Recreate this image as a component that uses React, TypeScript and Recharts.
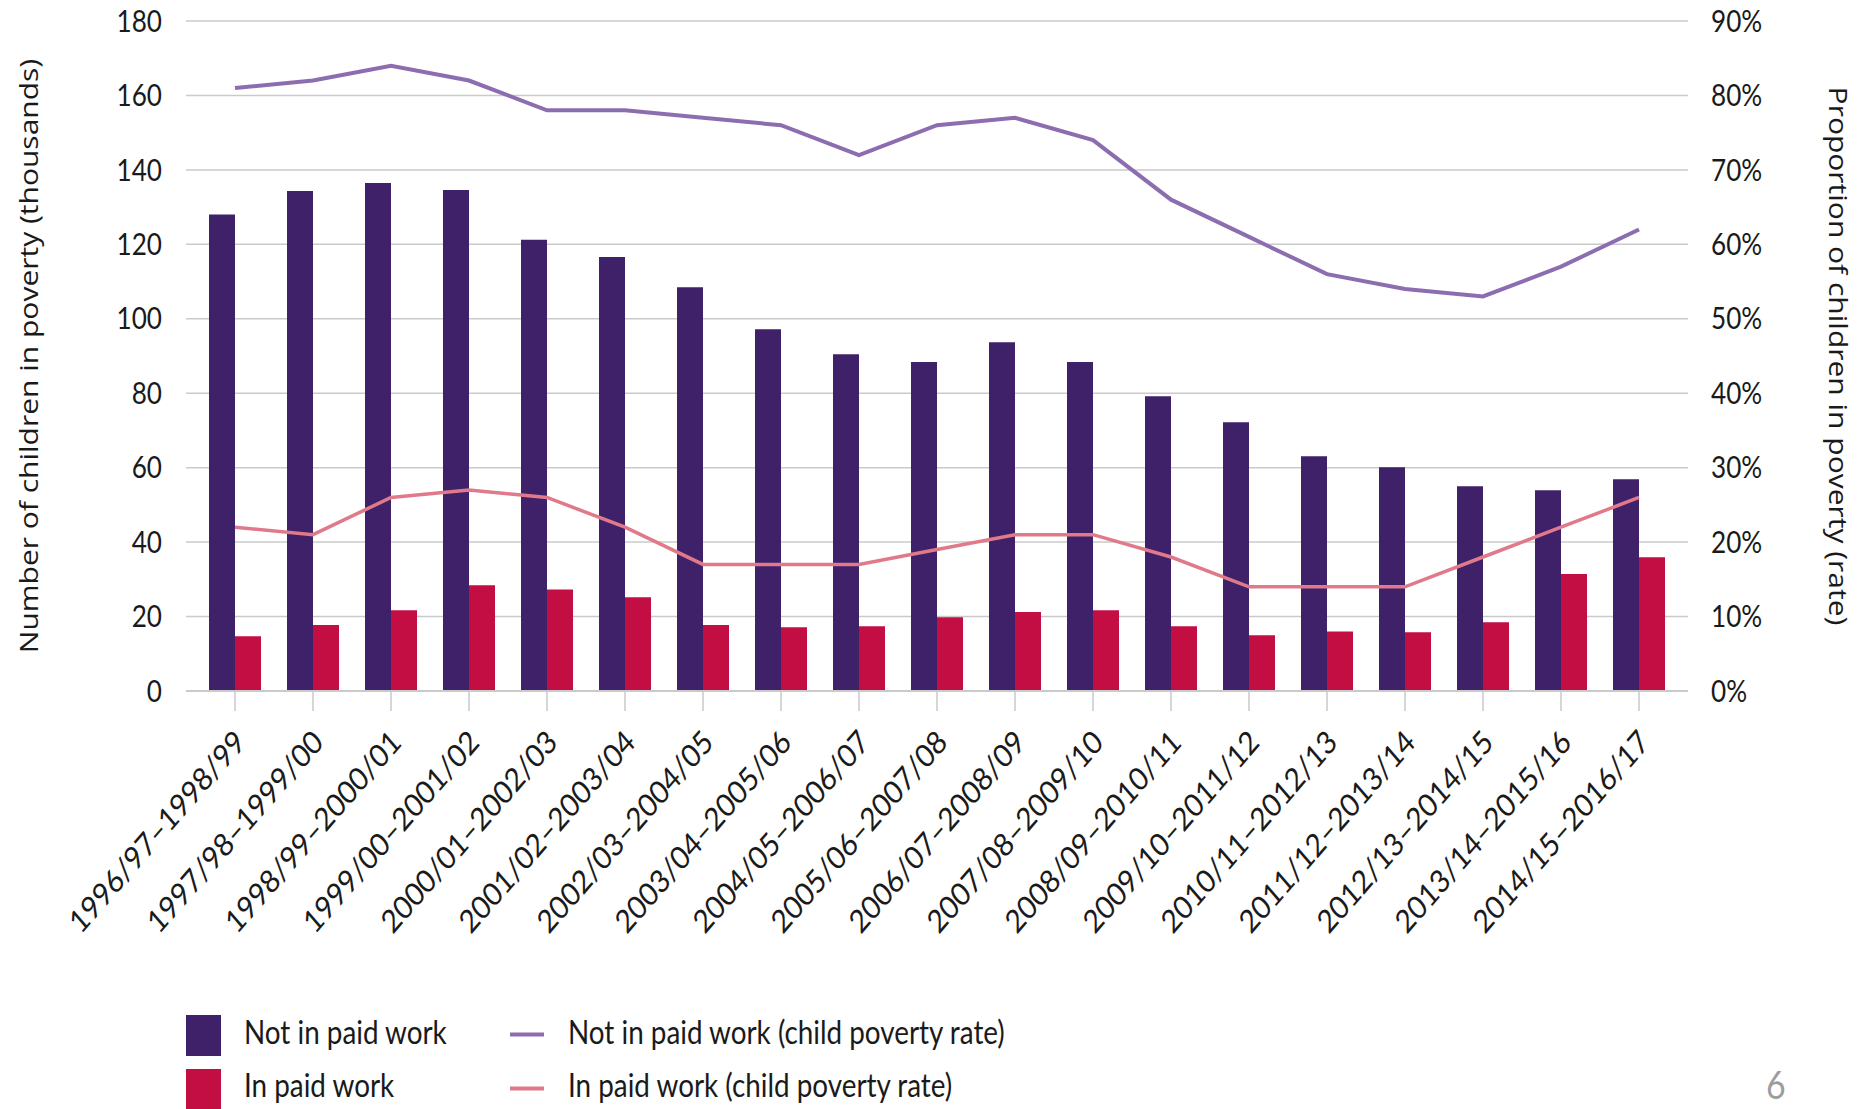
import React from 'react';
import { ComposedChart, Bar, Line, XAxis, YAxis, CartesianGrid, Legend, Label } from 'recharts';

const categories = [
  '1996/97–1998/99', '1997/98–1999/00', '1998/99–2000/01', '1999/00–2001/02',
  '2000/01–2002/03', '2001/02–2003/04', '2002/03–2004/05', '2003/04–2005/06',
  '2004/05–2006/07', '2005/06–2007/08', '2006/07–2008/09', '2007/08–2009/10',
  '2008/09–2010/11', '2009/10–2011/12', '2010/11–2012/13', '2011/12–2013/14',
  '2012/13–2014/15', '2013/14–2015/16', '2014/15–2016/17',
];
const notInPaidWork = [128, 134.3, 136.5, 134.6, 121.2, 116.6, 108.5, 97.2, 90.5, 88.4, 93.7, 88.4, 79.2, 72.2, 63.1, 60.1, 55, 53.9, 56.9];
const inPaidWork = [14.7, 17.7, 21.7, 28.4, 27.3, 25.2, 17.7, 17.1, 17.4, 19.8, 21.2, 21.7, 17.4, 15, 16, 15.8, 18.5, 31.4, 35.9];
const notInPaidWorkRate = [81, 82, 84, 82, 78, 78, 77, 76, 72, 76, 77, 74, 66, 61, 56, 54, 53, 57, 62];
const inPaidWorkRate = [22, 21, 26, 27, 26, 22, 17, 17, 17, 19, 21, 21, 18, 14, 14, 14, 18, 22, 26];
const leftTicks = [0, 20, 40, 60, 80, 100, 120, 140, 160, 180];
const rightTicks = [0, 10, 20, 30, 40, 50, 60, 70, 80, 90];

const seriesNames = {
  notInPaidWork: 'Not in paid work',
  inPaidWork: 'In paid work',
  notInPaidWorkRate: 'Not in paid work (child poverty rate)',
  inPaidWorkRate: 'In paid work (child poverty rate)',
};

const data = categories.map((name, i) => ({
  name,
  notInPaidWork: notInPaidWork[i],
  inPaidWork: inPaidWork[i],
  notInPaidWorkRate: notInPaidWorkRate[i],
  inPaidWorkRate: inPaidWorkRate[i],
}));

const C_PURPLE = '#3f216a';
const C_RED = '#c30e44';
const C_LPURPLE = '#8b6db0';
const C_PINK = '#e07a8a';
const GRID = '#cacaca';
const TEXT = '#1a1a1a';
const TICK_FONT = 'Lato, "Open Sans", sans-serif';
const TITLE_FONT = '"Open Sans", "Noto Sans", sans-serif';
const SX = 0.87; // horizontal squeeze of the lettering

const XTick = (props: any) => {
  const { x, y, payload } = props;
  return (
    <g transform={`translate(${x + 12},${y + 31}) scale(${SX},1) rotate(-45)`}>
      <text x={0} y={0} textAnchor="end" fill={TEXT} fontSize={32} fontFamily={TICK_FONT}>
        {payload.value}
      </text>
    </g>
  );
};

const YTickLeft = (props: any) => {
  const { x, y, payload } = props;
  return (
    <g transform={`translate(${x},${y}) scale(${SX},1)`}>
      <text x={0} y={0} dy="0.355em" textAnchor="end" fill={TEXT} fontSize={30} fontFamily={TICK_FONT}>
        {payload.value}
      </text>
    </g>
  );
};

const YTickRight = (props: any) => {
  const { x, y, payload } = props;
  return (
    <g transform={`translate(${x},${y}) scale(${SX},1)`}>
      <text x={0} y={0} dy="0.355em" textAnchor="start" fill={TEXT} fontSize={30} fontFamily={TICK_FONT}>
        {`${payload.value}%`}
      </text>
    </g>
  );
};

const LeftTitle = (props: any) => {
  const vb = props.viewBox || { x: 0, y: 21, width: 186, height: 670 };
  const cx = vb.x + 28;
  const cy = vb.y + vb.height / 2;
  return (
    <g transform={`translate(${cx},${cy}) scale(${SX},1) rotate(-90)`}>
      <text x={0} y={0} textAnchor="middle" dominantBaseline="central" fill={TEXT} fontSize={30} fontFamily={TITLE_FONT}>
        Number of children in poverty (thousands)
      </text>
    </g>
  );
};

const RightTitle = (props: any) => {
  const vb = props.viewBox || { x: 1688, y: 21, width: 177, height: 670 };
  const cx = vb.x + 151;
  const cy = vb.y + vb.height / 2;
  return (
    <g transform={`translate(${cx},${cy}) scale(${SX},1) rotate(90)`}>
      <text x={0} y={0} textAnchor="middle" dominantBaseline="central" fill={TEXT} fontSize={30} fontFamily={TITLE_FONT}>
        Proportion of children in poverty (rate)
      </text>
    </g>
  );
};

const LegendText = ({ x, y, children }: any) => (
  <g transform={`translate(${x},${y}) scale(${SX},1)`}>
    <text x={0} y={0} fill={TEXT} fontSize={32} fontFamily={TICK_FONT}>{children}</text>
  </g>
);

const LegendContent = (props: any) => {
  const payload: any[] = props.payload || [];
  const find = (k: string) => payload.find((p) => p.dataKey === k) || {};
  const a = find('notInPaidWork');
  const b = find('inPaidWork');
  const c = find('notInPaidWorkRate');
  const d = find('inPaidWorkRate');
  return (
    <svg width={1865} height={1109} style={{ position: 'absolute', left: 0, top: 0 }}>
      <rect x={186} y={1015} width={35} height={41} fill={a.color || C_PURPLE} />
      <LegendText x={244} y={1044}>{a.value || seriesNames.notInPaidWork}</LegendText>
      <rect x={186} y={1069} width={35} height={40} fill={b.color || C_RED} />
      <LegendText x={244} y={1097}>{b.value || seriesNames.inPaidWork}</LegendText>
      <line x1={510} x2={544} y1={1034.5} y2={1034.5} stroke={c.color || C_LPURPLE} strokeWidth={4} />
      <LegendText x={568} y={1044}>{c.value || seriesNames.notInPaidWorkRate}</LegendText>
      <line x1={510} x2={544} y1={1088.5} y2={1088.5} stroke={d.color || C_PINK} strokeWidth={4} />
      <LegendText x={568} y={1097}>{d.value || seriesNames.inPaidWorkRate}</LegendText>
      <g transform={`translate(1766,1099) scale(${SX},1)`}>
        <text x={0} y={0} fill="#9d9d9d" fontSize={39} fontFamily={TICK_FONT}>6</text>
      </g>
    </svg>
  );
};

export default function App() {
  return (
    <div style={{ position: 'absolute', left: 0, top: 0, width: 1865, height: 1109, background: '#fff', overflow: 'hidden' }}>
      <ComposedChart width={1865} height={1109} data={data} margin={{ top: 21, right: 0, bottom: 0, left: 0 }} barGap={0}>
        <CartesianGrid vertical={false} stroke={GRID} strokeWidth={1.5} yAxisId="left" />
        <XAxis
          dataKey="name"
          height={418}
          interval={0}
          tickSize={20}
          tickLine={{ stroke: GRID, strokeWidth: 1.5 }}
          axisLine={{ stroke: GRID, strokeWidth: 2 }}
          padding={{ left: 10, right: 10 }}
          tick={<XTick />}
        />
        <YAxis
          yAxisId="left"
          width={186}
          domain={[0, 180]}
          ticks={leftTicks}
          axisLine={false}
          tickLine={false}
          tickSize={0}
          tickMargin={24}
          tick={<YTickLeft />}
        >
          <Label content={<LeftTitle />} />
        </YAxis>
        <YAxis
          yAxisId="right"
          orientation="right"
          width={177}
          domain={[0, 90]}
          ticks={rightTicks}
          axisLine={false}
          tickLine={false}
          tickSize={0}
          tickMargin={23}
          tick={<YTickRight />}
        >
          <Label content={<RightTitle />} />
        </YAxis>
        <Bar yAxisId="left" dataKey="notInPaidWork" name={seriesNames.notInPaidWork} fill={C_PURPLE} barSize={26} isAnimationActive={false} />
        <Bar yAxisId="left" dataKey="inPaidWork" name={seriesNames.inPaidWork} fill={C_RED} barSize={26} isAnimationActive={false} />
        <Line yAxisId="right" type="linear" dataKey="notInPaidWorkRate" name={seriesNames.notInPaidWorkRate} stroke={C_LPURPLE} strokeWidth={4} dot={false} activeDot={false} isAnimationActive={false} />
        <Line yAxisId="right" type="linear" dataKey="inPaidWorkRate" name={seriesNames.inPaidWorkRate} stroke={C_PINK} strokeWidth={3.5} dot={false} activeDot={false} isAnimationActive={false} />
        <Legend
          verticalAlign="middle"
          align="center"
          layout="horizontal"
          wrapperStyle={{ left: 0, top: 0, width: 1865, height: 1109, pointerEvents: 'none' }}
          content={<LegendContent />}
        />
      </ComposedChart>
    </div>
  );
}
